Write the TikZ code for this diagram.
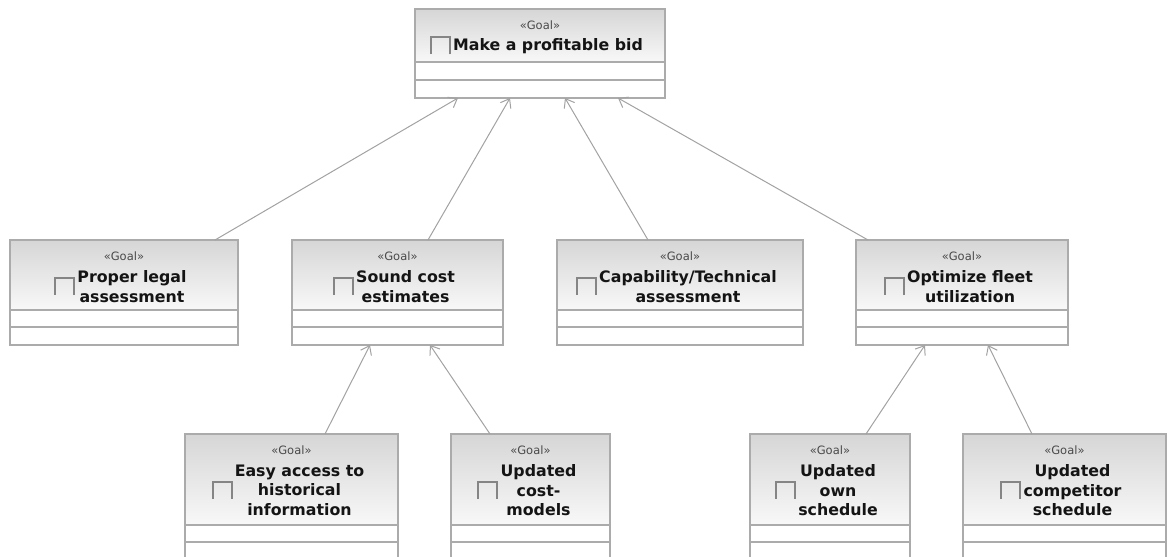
\documentclass[tikz,border=0pt]{standalone}
\usepackage{fontspec}
\setmainfont{DejaVu Sans}
\usetikzlibrary{arrows.meta}

\definecolor{boxgray}{HTML}{ABABAB}
\definecolor{linkgray}{HTML}{A2A2A2}
\definecolor{hdtop}{HTML}{D6D6D6}
\definecolor{hdbot}{HTML}{F8F8F8}
\definecolor{icongray}{HTML}{858585}
\definecolor{stgray}{HTML}{4A4A4A}
\definecolor{namecol}{HTML}{141414}

\tikzset{
  box/.style={inner sep=0pt, outer sep=0pt, anchor=north west},
  rule/.style={draw=boxgray, line width=1.2pt},
  stereo/.style={inner sep=0pt, text=stgray, font=\fontsize{11.5}{13}\selectfont},
  gname/.style={inner sep=0pt, align=center, text=namecol,
    font=\fontsize{15.8}{19.5}\selectfont\bfseries},
  goalicon/.style={draw=icongray, line width=2pt},
  realize/.style={draw=linkgray, line width=1pt, -{Straight Barb[length=8pt,width=12pt]}},
}

% #1 name, #2 left, #3 top, #4 width, #5 height, #6 header height,
% #7 compartment height, #8 number of text lines, #9 text
\newcommand\goalbox[9]{%
  \node[box, minimum width=#4pt, minimum height=#5pt] (#1) at (#2,#3) {};
  \shade[top color=hdtop, bottom color=hdbot]
    (#1.north west) rectangle ([yshift=-#6pt]#1.north east);
  \draw[rule] ([yshift=-#6pt]#1.north west) -- ([yshift=-#6pt]#1.north east);
  \draw[rule] ([yshift={-#6pt-#7pt}]#1.north west) -- ([yshift={-#6pt-#7pt}]#1.north east);
  \draw[rule] (#1.north west) rectangle (#1.south east);
  \node[stereo] (#1-st) at ([yshift=-16pt]#1.north) {«Goal»};
  \node[gname] (#1-nm) at ([xshift=8pt, yshift={-27pt-#8*9.75pt}]#1.north) {#9};
  \draw[goalicon] ([xshift=-3pt, yshift=-8.5pt]#1-nm.west)
    -- ++(0,-17) -- ++(-19,0) -- ++(0,17);
}

\begin{document}
\begin{tikzpicture}[x=1pt, y=-1pt]
\path[use as bounding box] (0,0) rectangle (1168,557);
\clip (0,0) rectangle (1168,557);

% top goal
\goalbox{bid}{415}{9}{250}{89}{53}{18}{1}{Make a profitable bid}

% second level
\goalbox{legal}{10}{240}{228}{105}{70}{17}{2}{Proper legal\\assessment}
\goalbox{cost}{292}{240}{211}{105}{70}{17}{2}{Sound cost\\estimates}
\goalbox{tech}{557}{240}{246}{105}{70}{17}{2}{Capability/Technical\\assessment}
\goalbox{fleet}{856}{240}{212}{105}{70}{17}{2}{Optimize fleet\\utilization}

% third level (runs past the lower edge)
\goalbox{hist}{185}{434}{213}{130}{91}{17}{3}{Easy access to\\historical\\information}
\goalbox{models}{451}{434}{159}{130}{91}{17}{3}{Updated\\cost-\\models}
\goalbox{own}{750}{434}{160}{130}{91}{17}{3}{Updated\\own\\schedule}
\goalbox{comp}{963}{434}{203}{130}{91}{17}{3}{Updated\\competitor\\schedule}

% connectors
\draw[realize] ([xshift=205pt]legal.north west) -- ([xshift=43pt]bid.south west);
\draw[realize] ([xshift=136pt]cost.north west) -- ([xshift=95pt]bid.south west);
\draw[realize] ([xshift=91pt]tech.north west) -- ([xshift=150pt]bid.south west);
\draw[realize] ([xshift=12pt]fleet.north west) -- ([xshift=203pt]bid.south west);

\draw[realize] ([xshift=140pt]hist.north west) -- ([xshift=78pt]cost.south west);
\draw[realize] ([xshift=39pt]models.north west) -- ([xshift=138pt]cost.south west);
\draw[realize] ([xshift=116pt]own.north west) -- ([xshift=69pt]fleet.south west);
\draw[realize] ([xshift=69pt]comp.north west) -- ([xshift=132pt]fleet.south west);
\end{tikzpicture}
\end{document}
